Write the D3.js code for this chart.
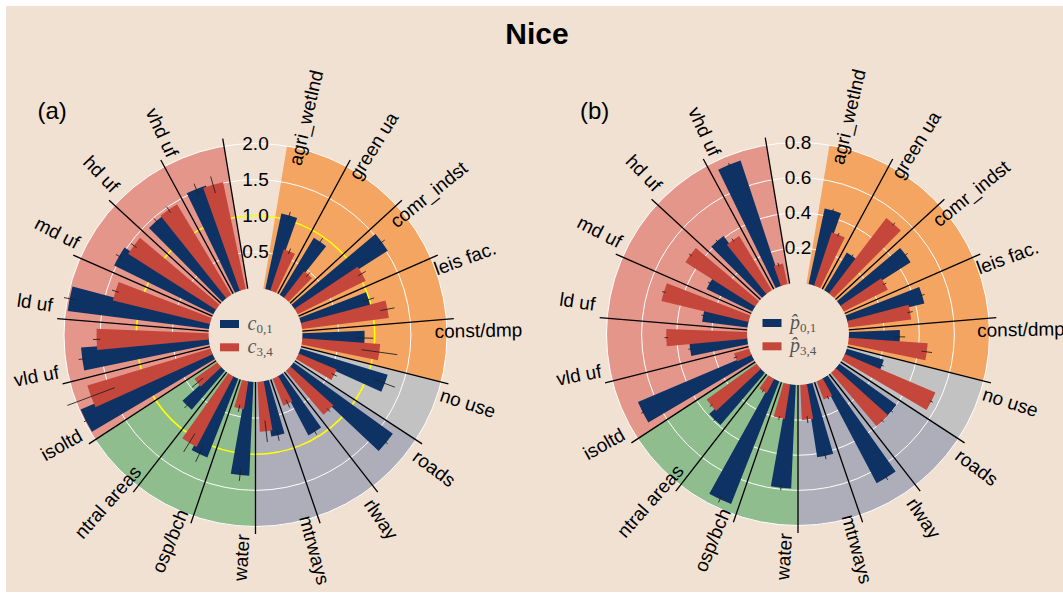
<!doctype html>
<html>
<head>
<meta charset="utf-8">
<script src="https://cdn.jsdelivr.net/npm/d3@7"></script>
<style>
  body { margin: 0; background: #fff; }
  text { font-family: "Liberation Sans", Arial, sans-serif; }
  .legend text { font-family: "Liberation Serif", "DejaVu Serif", serif; fill: #555; }
</style>
</head>
<body>
<svg width="1063" height="598"></svg>
<script>

    // categories, clockwise from the top
    var categories = ["agri_wetlnd", "green ua", "comr_indst", "leis fac.", "const/dmp", "no use",
                      "roads", "rlway", "mtrways", "water", "osp/bch", "ntral areas",
                      "isoltd", "vld uf", "ld uf", "md uf", "hd uf", "vhd uf"];
    var groups = ["prod", "prod", "prod", "prod", "prod", "unused",
                  "transport", "transport", "transport", "natural", "natural", "natural",
                  "urban", "urban", "urban", "urban", "urban", "urban"];

    // panel (a)
    var c01 = [1.07, 0.92, 1.52, 0.99, 0.86, 1.26, 1.69, 0.92, 0.77, 1.30, 1.17, 0.71, 1.98, 1.77, 1.97, 1.53, 1.44, 1.53];
    var c34 = [0.60, 0.46, 1.05, 1.21, 1.08, 0.57, 0.80, 0.40, 0.69, 0.39, 1.10, 0.39, 1.78, 1.55, 1.38, 1.44, 1.46, 1.51];
    var c01Err = [0.05, 0.06, 0.05, 0.08, 0.12, 0.15, 0.03, 0.05, 0.08, 0.08, 0.12, 0.05, 0.03, 0.05, 0.08, 0.05, 0.05, 0.08];
    var c34Err = [0.04, 0.04, 0.06, 0.10, 0.25, 0.04, 0.03, 0.06, 0.15, 0.05, 0.15, 0.10, 0.35, 0.05, 0.05, 0.05, 0.05, 0.12];
    var ticksA = [0.5, 1.0, 1.5, 2.0];

    // panel (b)
    var p01 = [0.44, 0.25, 0.47, 0.45, 0.29, 0.22, 0.40, 0.67, 0.42, 0.59, 0.75, 0.39, 0.70, 0.33, 0.26, 0.29, 0.41, 0.75];
    var p34 = [0.32, 0.54, 0.28, 0.36, 0.45, 0.56, 0.40, 0.11, 0.20, 0.20, 0.09, 0.35, 0.09, 0.46, 0.51, 0.47, 0.36, 0.12];
    var p01Err = [0.01, 0.01, 0.015, 0.015, 0.03, 0.01, 0.01, 0.015, 0.02, 0.015, 0.02, 0.01, 0.01, 0.01, 0.01, 0.01, 0.01, 0.01];
    var p34Err = [0.01, 0.01, 0.01, 0.015, 0.03, 0.01, 0.01, 0.01, 0.02, 0.01, 0.01, 0.01, 0.01, 0.01, 0.01, 0.01, 0.01, 0.01];
    var ticksB = [0.2, 0.4, 0.6, 0.8];

    var svg = d3.select("svg");

    svg.append("rect")
       .attr("x", 6).attr("y", 6)
       .attr("width", 1057).attr("height", 586)
       .attr("fill", "#f0e1d3");

    svg.append("text")
       .attr("x", 537).attr("y", 44)
       .attr("text-anchor", "middle")
       .attr("font-size", "30px")
       .attr("font-weight", "bold")
       .text("Nice");

    // one empty slot at the top, then the 18 categories
    var slots = ["gap"].concat(categories);
    var angle = d3.scaleBand()
        .domain(slots)
        .range([-Math.PI / 19, 2 * Math.PI - Math.PI / 19]);
    var bw = angle.bandwidth();

    var groupColor = d3.scaleOrdinal()
        .domain(["prod", "unused", "transport", "natural", "urban"])
        .range(["#f4a562", "#c2c2c2", "#adaeb9", "#8fbd8e", "#e5968a"]);

    var blue = "#0d3263", red = "#c5463b";
    var deg = Math.PI / 180;
    var arc = d3.arc();

    function drawPanel(cfg) {
        var g = svg.append("g")
            .attr("transform", "translate(" + cfg.cx + "," + cfg.cy + ")");

        var r = d3.scaleLinear().domain([0, cfg.max]).range([cfg.r0, 191.5]);

        // background sectors, one per run of same group
        var runs = [];
        groups.forEach(function(gr, i) {
            var last = runs[runs.length - 1];
            if (last && last.group === gr) { last.end = categories[i]; }
            else { runs.push({group: gr, start: categories[i], end: categories[i]}); }
        });
        g.selectAll(".sector")
         .data(runs)
         .enter().append("path")
         .attr("d", function(d) {
             return arc({innerRadius: cfg.r0, outerRadius: r(cfg.max),
                         startAngle: angle(d.start), endAngle: angle(d.end) + bw});
         })
         .attr("fill", function(d) { return groupColor(d.group); });

        // grid circles
        g.selectAll(".grid")
         .data(cfg.ticks)
         .enter().append("circle")
         .attr("r", function(d) { return r(d); })
         .attr("fill", "none")
         .attr("stroke", function(d) { return d === cfg.ref ? "#ffff00" : "#ffffff"; })
         .attr("stroke-width", function(d) { return d === cfg.ref ? 1.6 : 1; });

        // bars
        var bars = [];
        categories.forEach(function(c, i) {
            bars.push({c: c, v: cfg.a[i], e: cfg.aErr[i], pos: 1 / 3, color: blue});
            bars.push({c: c, v: cfg.b[i], e: cfg.bErr[i], pos: 2 / 3, color: red});
        });
        var half = bw * 0.2;
        g.selectAll(".bar")
         .data(bars)
         .enter().append("path")
         .attr("d", function(d) {
             var m = angle(d.c) + bw * d.pos;
             return arc({innerRadius: cfg.r0, outerRadius: r(d.v), startAngle: m - half, endAngle: m + half});
         })
         .attr("fill", function(d) { return d.color; });

        // error bars
        g.selectAll(".err")
         .data(bars)
         .enter().append("line")
         .each(function(d) {
             var m = angle(d.c) + bw * d.pos;
             var r1 = r(d.v - d.e), r2 = r(d.v + d.e);
             d3.select(this)
               .attr("x1", r1 * Math.sin(m)).attr("y1", -r1 * Math.cos(m))
               .attr("x2", r2 * Math.sin(m)).attr("y2", -r2 * Math.cos(m));
         })
         .attr("stroke", "#222")
         .attr("stroke-width", 0.9);

        // spokes at the end of each category slot
        g.selectAll(".spoke")
         .data(categories)
         .enter().append("line")
         .each(function(c) {
             var a = angle(c) + bw;
             d3.select(this)
               .attr("x1", cfg.r0 * Math.sin(a)).attr("y1", -cfg.r0 * Math.cos(a))
               .attr("x2", 199 * Math.sin(a)).attr("y2", -199 * Math.cos(a));
         })
         .attr("stroke", "#000")
         .attr("stroke-width", 1.3);

        // radial tick labels
        g.selectAll(".tick")
         .data(cfg.ticks)
         .enter().append("text")
         .attr("x", 0)
         .attr("y", function(d) { return -r(d); })
         .attr("text-anchor", "middle")
         .attr("dominant-baseline", "central")
         .attr("font-size", "19px")
         .text(function(d) { return d3.format(".1f")(d); });

        // category labels
        g.selectAll(".cat")
         .data(categories)
         .enter().append("text")
         .attr("text-anchor", "middle")
         .attr("dominant-baseline", "central")
         .attr("font-size", "19px")
         .attr("transform", function(c) {
             var a = angle(c) + 3.6 * deg;
             var t = ((a / deg) % 360 + 360) % 360;
             var rot = t < 180 ? t - 90 : t + 90;
             return "translate(" + (223 * Math.sin(a)) + "," + (-223 * Math.cos(a)) + ") rotate(" + rot + ")";
         })
         .text(function(c) { return c; });

        // legend in the hole
        var lg = g.append("g").attr("class", "legend");
        [[cfg.labA, blue, -15], [cfg.labB, red, 8.3]].forEach(function(item) {
            lg.append("rect")
              .attr("x", -35.5).attr("y", item[2])
              .attr("width", 19).attr("height", 8)
              .attr("fill", item[1]);
            var t = lg.append("text")
              .attr("x", -8).attr("y", item[2] + 9.5)
              .attr("font-size", "20px");
            t.append("tspan").attr("font-style", "italic").text(item[0][0]);
            t.append("tspan").attr("font-size", "13px").attr("dy", 3).text(item[0][1]);
        });

        svg.append("text")
           .attr("x", cfg.cx - 218).attr("y", 119)
           .attr("font-size", "24px")
           .text(cfg.name);
    }

    drawPanel({cx: 255.5, cy: 335, r0: 47, max: 2.0, ticks: ticksA, ref: 1.0,
               a: c01, b: c34, aErr: c01Err, bErr: c34Err,
               labA: ["c", "0,1"], labB: ["c", "3,4"], name: "(a)"});
    drawPanel({cx: 798, cy: 334, r0: 51, max: 0.8, ticks: ticksB, ref: null,
               a: p01, b: p34, aErr: p01Err, bErr: p34Err,
               labA: ["p\u0302", "0,1"], labB: ["p\u0302", "3,4"], name: "(b)"});

</script>
</body>
</html>
